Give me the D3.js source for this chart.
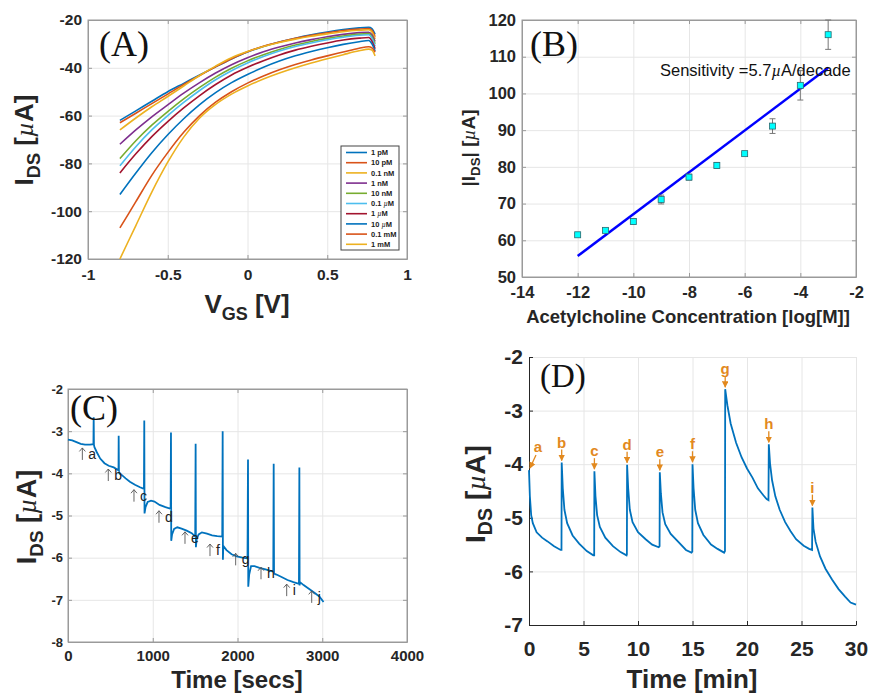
<!DOCTYPE html>
<html>
<head>
<meta charset="utf-8">
<script src="https://cdn.jsdelivr.net/npm/d3@7"></script>
<style>
  body { margin: 0; background: #fff; }
</style>
</head>
<body>
<script>
// ---- panel A: transfer curves
const vgs = [-0.8,-0.7,-0.6,-0.5,-0.4,-0.3,-0.2,-0.1,0,0.1,0.2,0.3,0.4,0.5,0.6,0.7,0.76,0.78,0.8];
const concLabels = ["1 pM","10 pM","0.1 nM","1 nM","10 nM","0.1 \u00b5M","1 \u00b5M","10 \u00b5M","0.1 mM","1 mM"];
const idsCurves = [
  [-62,-58,-54,-50,-46.5,-43,-39.6,-36.3,-33.4,-31.1,-29.2,-27.6,-26.2,-25,-24,-23.3,-23.1,-23.6,-26],
  [-63,-59,-55,-51,-47,-43.2,-39.6,-36.2,-33.3,-31.0,-29.2,-27.7,-26.4,-25.3,-24.4,-23.8,-23.6,-24.3,-27],
  [-66,-61,-56.3,-52,-47.6,-43.2,-39.3,-35.8,-33.2,-31.1,-29.4,-28,-26.8,-25.8,-24.9,-24.3,-24.1,-25,-28],
  [-72,-66,-60.5,-55.5,-50.6,-46.2,-42.2,-38.7,-35.8,-33.3,-31.3,-29.6,-28.2,-27,-26,-25.3,-25.1,-26.2,-29],
  [-78,-70.5,-64,-58.3,-53,-48.2,-43.9,-40.2,-37.1,-34.5,-32.3,-30.5,-29,-27.7,-26.7,-25.9,-25.7,-27,-30],
  [-81,-73,-66,-60,-54.5,-49.5,-45,-41.2,-38,-35.3,-33,-31.1,-29.6,-28.3,-27.2,-26.4,-26.2,-27.6,-31],
  [-84,-76,-68.8,-62.5,-56.8,-51.6,-47,-43,-39.8,-37,-34.6,-32.6,-31,-29.6,-28.4,-27.6,-27.3,-28.8,-32],
  [-93,-84,-75.5,-68,-61.3,-55.4,-50.4,-46.2,-42.8,-39.8,-37.2,-35,-33.2,-31.6,-30.2,-29.1,-28.6,-30,-33],
  [-107,-96,-85,-75.5,-67,-60,-54.4,-50,-46.4,-43.4,-40.8,-38.6,-36.7,-35,-33.4,-31.8,-31.2,-31.7,-33.5],
  [-120,-106,-92,-79.5,-69,-61,-55.3,-51,-47.6,-44.7,-42.2,-40,-38,-36.2,-34.5,-32.9,-32.2,-32.6,-35]
];
const matlabColors = ["#0072BD","#D95319","#EDB120","#7E2F8E","#77AC30","#4DBEEE","#A2142F"];

// ---- panel B: calibration
const logConc = [-12,-11,-10,-9,-8,-7,-6,-5,-4,-3];
const idsMean = [61.5,62.7,65.1,71.1,77.2,80.4,83.6,91.1,102.2,116];
const idsErr  = [0.3,0.5,0.7,1.2,0.8,0.8,0.3,2,4,4];
const fitSlope = 5.7, fitIntercept = 124.1;

// ---- panel C: time response (secs)
const timeSecs = [0,50,100,150,200,260,300,303,306,312,340,380,430,480,540,590,596,598,601,606,640,680,730,790,850,896,900,903,915,940,980,1020,1080,1150,1211,1215,1218,1228,1252,1290,1340,1400,1460,1501,1506,1509,1519,1542,1580,1640,1700,1760,1820,1825,1828,1832,1870,1930,1990,2060,2118,2124,2127,2138,2160,2200,2260,2330,2400,2422,2427,2431,2460,2520,2590,2660,2725,2730,2733,2738,2780,2850,2920,2970,3015];
const idsC     = [-3.2,-3.22,-3.26,-3.3,-3.32,-3.32,-3.31,-2.67,-3.32,-3.38,-3.5,-3.65,-3.76,-3.82,-3.86,-3.92,-3.93,-3.11,-3.98,-4.0,-4.05,-4.12,-4.2,-4.27,-4.33,-4.37,-2.75,-4.95,-4.8,-4.68,-4.65,-4.67,-4.75,-4.8,-4.84,-3.03,-5.6,-5.45,-5.32,-5.28,-5.31,-5.36,-5.42,-5.5,-3.3,-5.75,-5.55,-5.45,-5.4,-5.43,-5.47,-5.49,-5.5,-3.0,-6.05,-5.72,-5.82,-5.92,-5.97,-6.0,-6.02,-3.67,-6.69,-6.4,-6.2,-6.2,-6.24,-6.28,-6.32,-6.33,-3.77,-6.38,-6.4,-6.46,-6.53,-6.58,-6.62,-3.86,-6.66,-6.58,-6.65,-6.75,-6.85,-6.93,-7.05];
const markC     = ["a","b","c","d","e","f","g","h","i","j"];
const markCTime = [134,440,743,1038,1345,1640,1943,2242,2545,2840];
const markCVal  = [-3.54,-4.04,-4.53,-5.03,-5.53,-5.82,-6.04,-6.37,-6.77,-6.93];

// ---- panel D: time response (min)
const timeMin = [0,0.08,0.2,0.35,0.7,1.2,1.7,2.3,2.9,2.98,3.0,3.1,3.25,3.5,4.0,4.6,5.3,5.9,5.98,6.0,6.1,6.25,6.5,7.0,7.7,8.4,8.95,8.98,9.0,9.1,9.25,9.5,10.0,10.7,11.3,11.9,11.98,12.0,12.1,12.25,12.5,13.0,13.7,14.4,14.9,14.98,15.0,15.1,15.25,15.5,16.0,16.7,17.3,17.9,17.98,18.0,18.2,18.5,19.0,19.5,20.0,20.5,21.0,21.5,21.8,21.97,22.0,22.12,22.3,22.6,23.0,23.5,24.0,24.5,25.2,25.7,25.97,26.0,26.1,26.3,26.7,27.2,27.8,28.4,29.0,29.5,30.0];
const idsD    = [-4.11,-4.6,-4.95,-5.1,-5.27,-5.37,-5.44,-5.53,-5.6,-5.6,-3.97,-4.45,-4.85,-5.1,-5.33,-5.48,-5.62,-5.7,-5.7,-4.13,-4.6,-4.95,-5.17,-5.37,-5.53,-5.64,-5.7,-5.68,-4.01,-4.45,-4.85,-5.08,-5.27,-5.4,-5.5,-5.55,-5.53,-4.15,-4.55,-4.9,-5.12,-5.3,-5.45,-5.6,-5.65,-5.63,-4.0,-4.45,-4.85,-5.1,-5.32,-5.5,-5.58,-5.65,-5.62,-2.6,-2.9,-3.24,-3.6,-3.87,-4.08,-4.25,-4.45,-4.58,-4.65,-4.67,-3.63,-4.0,-4.3,-4.6,-4.85,-5.08,-5.25,-5.4,-5.52,-5.58,-5.6,-4.81,-5.2,-5.45,-5.72,-5.95,-6.15,-6.33,-6.47,-6.58,-6.62];
const markD     = ["a","b","c","d","e","f","g","h","i"];
const markDTime = [0,3,6,9,12,15,18,22,26];
const markDPeak = [-4.11,-3.97,-4.13,-4.01,-4.15,-4.0,-2.6,-3.63,-4.81];

const sans = "Liberation Sans, Arial, sans-serif";
const serif = "Liberation Serif, Times New Roman, serif";

const svg = d3.select("body").append("svg")
  .attr("width", 871).attr("height", 693)
  .attr("font-family", sans);

const tickColor = "#262626";
const orange = "#E2891E";
const plainNum = d => String(d);

// builds grid, box, axes of one panel; returns the scales
function makePanel(p) {
  const x = d3.scaleLinear().domain(p.xDomain).range([p.left, p.right]);
  const y = d3.scaleLinear().domain(p.yDomain).range([p.bottom, p.top]);
  const g = svg.append("g");
  const w = p.right - p.left, h = p.bottom - p.top;

  // grid
  g.append("g").attr("transform", `translate(0,${p.bottom})`)
    .call(d3.axisBottom(x).tickValues(p.xTicks).tickSize(-h).tickFormat(""))
    .call(s => s.select(".domain").remove())
    .selectAll("line").attr("stroke", "#e6e6e6");
  g.append("g").attr("transform", `translate(${p.left},0)`)
    .call(d3.axisLeft(y).tickValues(p.yTicks).tickSize(-w).tickFormat(""))
    .call(s => s.select(".domain").remove())
    .selectAll("line").attr("stroke", "#e6e6e6");

  if (p.box) {
    g.append("rect").attr("x", p.left).attr("y", p.top)
      .attr("width", w).attr("height", h)
      .attr("fill", "none").attr("stroke", p.axisColor);
  }

  const xa = g.append("g").attr("transform", `translate(0,${p.bottom})`)
    .call(d3.axisBottom(x).tickValues(p.xTicks).tickFormat(plainNum)
      .tickSize(-4).tickSizeOuter(0).tickPadding(p.xPad))
    .attr("color", p.axisColor);
  xa.selectAll("text").attr("fill", tickColor).attr("font-size", p.xFont)
    .attr("font-weight", "bold").attr("font-family", sans);
  const ya = g.append("g").attr("transform", `translate(${p.left},0)`)
    .call(d3.axisLeft(y).tickValues(p.yTicks).tickFormat(plainNum)
      .tickSize(-4).tickSizeOuter(0).tickPadding(p.yPad))
    .attr("color", p.axisColor);
  ya.selectAll("text").attr("fill", tickColor).attr("font-size", p.yFont)
    .attr("font-weight", "bold").attr("font-family", sans);
  if (p.box) {
    // MATLAB puts inward ticks on the top and right too
    g.append("g").attr("transform", `translate(0,${p.top})`)
      .call(d3.axisTop(x).tickValues(p.xTicks).tickSize(-4).tickSizeOuter(0).tickFormat(""))
      .attr("color", p.axisColor);
    g.append("g").attr("transform", `translate(${p.right},0)`)
      .call(d3.axisRight(y).tickValues(p.yTicks).tickSize(-4).tickSizeOuter(0).tickFormat(""))
      .attr("color", p.axisColor);
  }
  return { x, y, g };
}

// rotated "I_DS [µA]" style label
function yLabel(x0, y0, size, bars) {
  const t = svg.append("text")
    .attr("transform", `translate(${x0},${y0}) rotate(-90)`)
    .attr("text-anchor", "middle").attr("font-weight", "bold")
    .attr("font-size", size).attr("fill", tickColor);
  t.append("tspan").text(bars ? "|I" : "I");
  t.append("tspan").attr("font-size", size * 0.7).attr("dy", size * 0.25).text("DS");
  t.append("tspan").attr("dy", -size * 0.25).text(bars ? "| [" : " [");
  t.append("tspan").attr("font-family", serif)
    .attr("font-style", "italic").attr("font-weight", "normal").text("\u00b5");
  t.append("tspan").text("A]");
}

function panelTag(x0, y0, size, s) {
  svg.append("text").attr("x", x0).attr("y", y0)
    .attr("font-family", serif)
    .attr("font-size", size).attr("fill", "#111").text(s);
}

// ================= Panel A =================
{
  const { x, y, g } = makePanel({
    left: 88, right: 407, top: 20, bottom: 259,
    xDomain: [-1, 1], yDomain: [-120, -20],
    xTicks: [-1, -0.5, 0, 0.5, 1], yTicks: [-120, -100, -80, -60, -40, -20],
    box: true, axisColor: "#9a9a9a", xFont: 15.5, yFont: 15.5, xPad: 10, yPad: 6
  });
  const line = d3.line().x((d, i) => x(vgs[i])).y(d => y(d)).curve(d3.curveMonotoneX);
  g.selectAll(".curveA").data(idsCurves).join("path")
    .attr("fill", "none").attr("stroke-width", 1.6)
    .attr("stroke", (d, i) => matlabColors[i % 7])
    .attr("d", line);

  // legend
  const lg = svg.append("g");
  lg.append("rect").attr("x", 341).attr("y", 146).attr("width", 58).attr("height", 104)
    .attr("fill", "#fff").attr("stroke", "#444").attr("stroke-width", 1);
  const rows = lg.selectAll(".row").data(concLabels).join("g")
    .attr("transform", (d, i) => `translate(346,${152.5 + i * 10.2})`);
  rows.append("line").attr("x1", 0).attr("x2", 21)
    .attr("stroke", (d, i) => matlabColors[i % 7]).attr("stroke-width", 1.6);
  rows.append("text").attr("x", 25).attr("dy", "0.35em")
    .attr("font-size", 7.5).attr("font-weight", "bold").attr("fill", "#222")
    .each(function (d) {
      const parts = d.split("\u00b5");
      const t = d3.select(this);
      t.append("tspan").text(parts[0]);
      if (parts.length > 1) {
        t.append("tspan").attr("font-family", serif)
          .attr("font-style", "italic").attr("font-weight", "normal").text("\u00b5");
        t.append("tspan").text(parts[1]);
      }
    });

  yLabel(33, 140, 26, false);
  const xl = svg.append("text").attr("x", 247).attr("y", 313)
    .attr("text-anchor", "middle").attr("font-weight", "bold")
    .attr("font-size", 26).attr("fill", tickColor);
  xl.append("tspan").text("V");
  xl.append("tspan").attr("font-size", 18).attr("dy", 7).text("GS");
  xl.append("tspan").attr("dy", -7).text(" [V]");
  panelTag(99, 56, 36, "(A)");
}

// ================= Panel B =================
{
  const { x, y, g } = makePanel({
    left: 522, right: 856, top: 20, bottom: 277,
    xDomain: [-14, -2], yDomain: [50, 120],
    xTicks: d3.range(-14, -1, 2), yTicks: d3.range(50, 121, 10),
    box: true, axisColor: "#9a9a9a", xFont: 16.5, yFont: 16.5, xPad: 9, yPad: 6
  });
  const fitX = [logConc[0], logConc[logConc.length - 1]];
  g.append("line")
    .attr("x1", x(fitX[0])).attr("y1", y(fitSlope * fitX[0] + fitIntercept))
    .attr("x2", x(fitX[1])).attr("y2", y(fitSlope * fitX[1] + fitIntercept))
    .attr("stroke", "#0000FF").attr("stroke-width", 2.5);

  const pts = logConc.map((c, i) => ({ c, m: idsMean[i], e: idsErr[i] }));
  const eb = g.selectAll(".err").data(pts).join("g").attr("stroke", "#777").attr("stroke-width", 1);
  eb.append("line").attr("x1", d => x(d.c)).attr("x2", d => x(d.c))
    .attr("y1", d => y(d.m - d.e)).attr("y2", d => y(d.m + d.e));
  eb.append("line").attr("x1", d => x(d.c) - 3).attr("x2", d => x(d.c) + 3)
    .attr("y1", d => y(d.m - d.e)).attr("y2", d => y(d.m - d.e));
  eb.append("line").attr("x1", d => x(d.c) - 3).attr("x2", d => x(d.c) + 3)
    .attr("y1", d => y(d.m + d.e)).attr("y2", d => y(d.m + d.e));
  g.selectAll(".pt").data(pts).join("rect")
    .attr("x", d => x(d.c) - 3).attr("y", d => y(d.m) - 3)
    .attr("width", 6).attr("height", 6)
    .attr("fill", "#00FFFF").attr("stroke", "#2a6a70").attr("stroke-width", 0.8);

  const st = svg.append("text").attr("x", 660).attr("y", 76)
    .attr("font-size", 16.5).attr("fill", "#111");
  st.append("tspan").text("Sensitivity =5.7");
  st.append("tspan").attr("font-family", serif).attr("font-style", "italic").text("\u00b5");
  st.append("tspan").text("A/decade");

  yLabel(475, 148, 19, true);
  svg.append("text").attr("x", 688).attr("y", 323).attr("text-anchor", "middle")
    .attr("font-weight", "bold").attr("font-size", 18.5).attr("fill", tickColor)
    .text("Acetylcholine Concentration [log[M]]");
  panelTag(530, 56, 36, "(B)");
}

// ================= Panel C =================
{
  const { x, y, g } = makePanel({
    left: 68, right: 407, top: 389, bottom: 642,
    xDomain: [0, 4000], yDomain: [-8, -2],
    xTicks: d3.range(0, 4001, 1000), yTicks: d3.range(-8, -1, 1),
    box: true, axisColor: "#9a9a9a", xFont: 15, yFont: 13, xPad: 8, yPad: 5
  });
  const line = d3.line().x((d, i) => x(timeSecs[i])).y(d => y(d));
  g.append("path").datum(idsC).attr("fill", "none")
    .attr("stroke", "#0072BD").attr("stroke-width", 1.8).attr("d", line);

  // thin up-arrows drawn as paths, followed by the letter
  const marks = g.selectAll(".mc").data(markC).join("g")
    .attr("transform", (d, i) => `translate(${x(markCTime[i])},${y(markCVal[i])})`);
  marks.append("path")
    .attr("d", "M3,6 V-6 M0,-2.5 L3,-6 L6,-2.5")
    .attr("fill", "none").attr("stroke", "#555").attr("stroke-width", 0.9);
  marks.append("text").attr("x", 9).attr("dy", "0.35em")
    .attr("font-size", 14).attr("fill", "#222").text(d => d);

  yLabel(36, 517, 27, false);
  svg.append("text").attr("x", 237).attr("y", 688).attr("text-anchor", "middle")
    .attr("font-weight", "bold").attr("font-size", 24).attr("fill", tickColor)
    .text("Time [secs]");
  panelTag(70, 420, 36, "(C)");
}

// ================= Panel D =================
{
  const { x, y, g } = makePanel({
    left: 529, right: 856, top: 357, bottom: 625,
    xDomain: [0, 30], yDomain: [-7, -2],
    xTicks: d3.range(0, 31, 5), yTicks: d3.range(-7, -1, 1),
    box: false, axisColor: "#262626", xFont: 21, yFont: 21, xPad: 16, yPad: 6
  });
  const line = d3.line().x((d, i) => x(timeMin[i])).y(d => y(d));
  g.append("path").datum(idsD).attr("fill", "none")
    .attr("stroke", "#0072BD").attr("stroke-width", 1.8).attr("d", line);

  svg.append("defs").append("marker").attr("id", "headD")
    .attr("viewBox", "0 0 10 10").attr("refX", 9).attr("refY", 5)
    .attr("markerWidth", 5).attr("markerHeight", 5).attr("orient", "auto")
    .append("path").attr("d", "M0,0 L10,5 L0,10 z").attr("fill", orange);

  markD.forEach((m, i) => {
    const px = x(markDTime[i]), py = y(markDPeak[i]);
    const diag = m === "a";
    g.append("line")
      .attr("x1", diag ? px + 7 : px).attr("y1", py - (diag ? 15 : 13))
      .attr("x2", diag ? px + 1 : px).attr("y2", py - 2)
      .attr("stroke", orange).attr("stroke-width", 1.3)
      .attr("marker-end", "url(#headD)");
    g.append("text").attr("x", diag ? px + 9 : px).attr("y", py - (diag ? 18 : 15))
      .attr("text-anchor", "middle").attr("font-weight", "bold")
      .attr("font-size", 15).attr("fill", orange).text(m);
  });

  yLabel(485, 494, 28, false);
  svg.append("text").attr("x", 692).attr("y", 688).attr("text-anchor", "middle")
    .attr("font-weight", "bold").attr("font-size", 26).attr("fill", tickColor)
    .text("Time [min]");
  panelTag(540, 387, 33, "(D)");
}
</script>
</body>
</html>
